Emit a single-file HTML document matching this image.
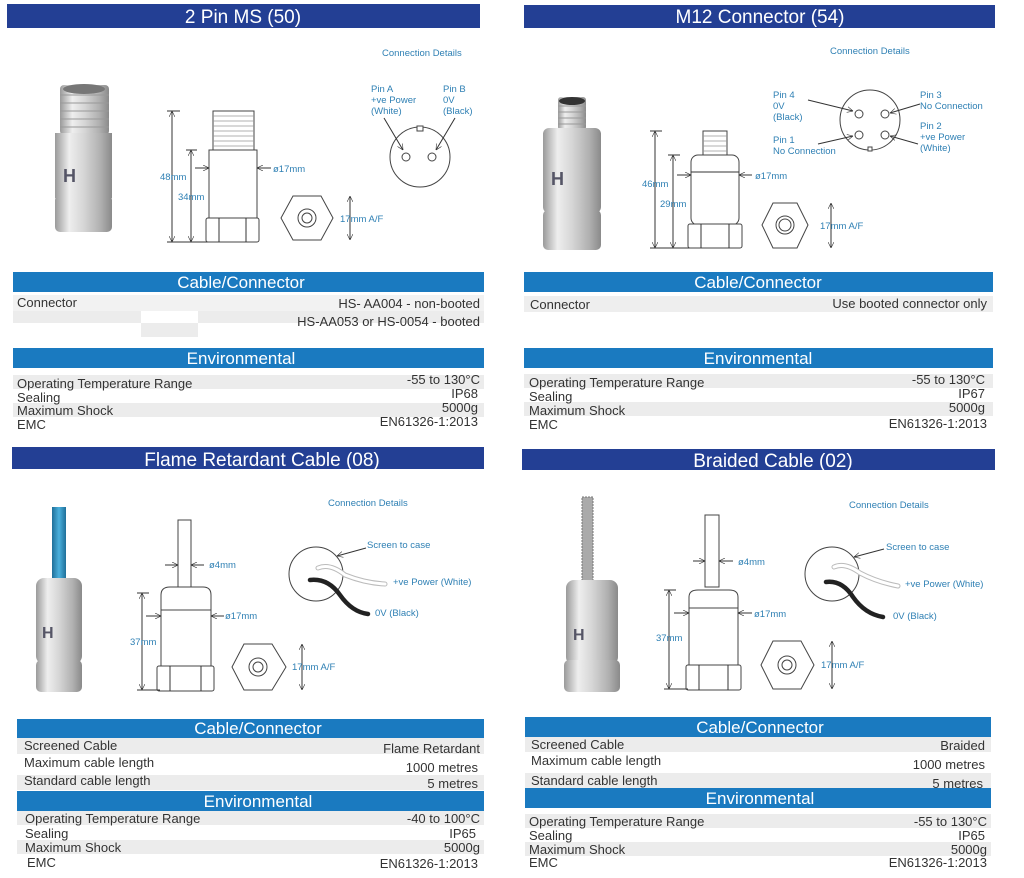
<!DOCTYPE html>
<html><head><meta charset="utf-8"><style>
html,body{margin:0;padding:0;background:#fff;}
svg{display:block;font-family:"Liberation Sans",Arial,sans-serif;}
.t{fill:#fff;font-size:19px;text-anchor:middle}
.s{fill:#fff;font-size:17px;text-anchor:middle}
.r{fill:#333;font-size:13px}
.rr{fill:#333;font-size:13px;text-anchor:end}
.b{fill:#2f80b4;font-size:9.5px}
.d{fill:#2f80b4;font-size:9.5px}
.l{stroke:#333;stroke-width:1;fill:none}
.w{stroke:#444;stroke-width:1;fill:#fff}
</style></head><body>
<svg width="1024" height="878" viewBox="0 0 1024 878" xmlns="http://www.w3.org/2000/svg">
<defs>
<linearGradient id="m" x1="0" x2="1" y1="0" y2="0">
<stop offset="0" stop-color="#9a9a9a"/><stop offset=".25" stop-color="#eeeeee"/><stop offset=".5" stop-color="#d6d6d6"/><stop offset=".8" stop-color="#b0b0b0"/><stop offset="1" stop-color="#8a8a8a"/></linearGradient>
<linearGradient id="c" x1="0" x2="1"><stop offset="0" stop-color="#1f6f99"/><stop offset=".5" stop-color="#4ab0dd"/><stop offset="1" stop-color="#1f6f99"/></linearGradient>
<marker id="a" viewBox="0 0 10 10" refX="10" refY="5" markerWidth="6" markerHeight="6" orient="auto-start-reverse"><path d="M0,0L10,5L0,10" fill="none" stroke="#333"/></marker>
</defs>

<!-- ===== TL ===== -->
<rect x="7" y="4" width="473" height="24" fill="#233f94"/>
<text class="t" x="243" y="23">2 Pin MS (50)</text>
<text class="b" x="382" y="56">Connection Details</text>
<rect x="60" y="85" width="49" height="50" rx="4" fill="url(#m)"/>
<path d="M60,95h49M60,103h49M60,111h49M60,119h49M60,127h49" stroke="#999" stroke-width="1"/>
<ellipse cx="84" cy="89" rx="21" ry="5" fill="#777"/>
<rect x="55" y="133" width="57" height="65" fill="url(#m)"/>
<rect x="55" y="195" width="57" height="37" rx="5" fill="url(#m)"/>
<text x="63" y="182" font-size="18" font-weight="bold" fill="#556">H</text>
<!-- drawing -->
<line class="l" x1="172" y1="111" x2="172" y2="242" marker-start="url(#a)" marker-end="url(#a)"/>
<line class="l" x1="167" y1="111" x2="180" y2="111"/><line class="l" x1="167" y1="242" x2="210" y2="242"/>
<line class="l" x1="191" y1="150" x2="191" y2="242" marker-start="url(#a)" marker-end="url(#a)"/>
<line class="l" x1="186" y1="150" x2="197" y2="150"/>
<rect class="w" x="213" y="111" width="41" height="39"/>
<path d="M213,116h41M213,121h41M213,126h41M213,131h41M213,136h41M213,141h41M213,146h41" stroke="#999" stroke-width=".8"/>
<rect class="w" x="209" y="150" width="48" height="68"/>
<rect class="w" x="206" y="218" width="53" height="24" rx="2"/>
<line class="l" x1="219" y1="218" x2="219" y2="242"/><line class="l" x1="246" y1="218" x2="246" y2="242"/>
<line class="l" x1="195" y1="168" x2="209" y2="168" marker-end="url(#a)"/>
<line class="l" x1="271" y1="168" x2="257" y2="168" marker-end="url(#a)"/>
<text class="d" x="273" y="172">ø17mm</text>
<text class="d" x="160" y="180">48mm</text>
<text class="d" x="178" y="200">34mm</text>
<polygon class="w" points="281,218 293,196 321,196 333,218 321,240 293,240"/>
<circle class="w" cx="307" cy="218" r="9"/><circle class="w" cx="307" cy="218" r="5"/>
<line class="l" x1="350" y1="196" x2="350" y2="240" marker-start="url(#a)" marker-end="url(#a)"/>
<text class="d" x="340" y="222">17mm A/F</text>
<circle class="w" cx="420" cy="157" r="30"/>
<rect class="w" x="417" y="126" width="6" height="5"/>
<circle class="w" cx="406" cy="157" r="4"/><circle class="w" cx="432" cy="157" r="4"/>
<line class="l" x1="384" y1="118" x2="403" y2="150" marker-end="url(#a)"/>
<line class="l" x1="455" y1="118" x2="436" y2="150" marker-end="url(#a)"/>
<text class="b" x="371" y="92">Pin A</text><text class="b" x="371" y="103">+ve Power</text><text class="b" x="371" y="114">(White)</text>
<text class="b" x="443" y="92">Pin B</text><text class="b" x="443" y="103">0V</text><text class="b" x="443" y="114">(Black)</text>
<rect x="13" y="272" width="471" height="20" fill="#1a7ac0"/>
<text class="s" x="241" y="288">Cable/Connector</text>
<rect x="13" y="295" width="471" height="16" fill="#f2f2f2"/>
<rect x="13" y="311" width="128" height="12" fill="#ececec"/><rect x="198" y="311" width="286" height="12" fill="#ececec"/>
<rect x="141" y="323" width="57" height="14" fill="#ececec"/>
<text class="r" x="17" y="307">Connector</text>
<text class="rr" x="480" y="308">HS- AA004 - non-booted</text>
<text class="rr" x="480" y="326">HS-AA053 or HS-0054 - booted</text>
<rect x="13" y="348" width="471" height="20" fill="#1a7ac0"/>
<text class="s" x="241" y="364">Environmental</text>
<rect x="13" y="375" width="471" height="14" fill="#ececec"/><rect x="13" y="403" width="471" height="14" fill="#ececec"/>
<text class="r" x="17" y="388">Operating Temperature Range</text><text class="rr" x="480" y="384">-55 to 130°C</text>
<text class="r" x="17" y="402">Sealing</text><text class="rr" x="478" y="398">IP68</text>
<text class="r" x="17" y="415">Maximum Shock</text><text class="rr" x="478" y="412">5000g</text>
<text class="r" x="17" y="429">EMC</text><text class="rr" x="478" y="426">EN61326-1:2013</text>

<!-- ===== TR ===== -->
<rect x="524" y="5" width="471" height="23" fill="#233f94"/>
<text class="t" x="760" y="23">M12 Connector (54)</text>
<text class="b" x="830" y="54">Connection Details</text>
<rect x="558" y="97" width="28" height="33" rx="3" fill="url(#m)"/>
<path d="M558,106h28M558,112h28M558,118h28M558,124h28" stroke="#999" stroke-width="1"/>
<ellipse cx="572" cy="101" rx="13" ry="4" fill="#333"/>
<rect x="543" y="128" width="58" height="85" rx="6" fill="url(#m)"/>
<rect x="543" y="210" width="58" height="40" rx="5" fill="url(#m)"/>
<text x="551" y="185" font-size="18" font-weight="bold" fill="#556">H</text>
<line class="l" x1="655" y1="131" x2="655" y2="248" marker-start="url(#a)" marker-end="url(#a)"/>
<line class="l" x1="650" y1="131" x2="662" y2="131"/><line class="l" x1="650" y1="248" x2="690" y2="248"/>
<line class="l" x1="673" y1="155" x2="673" y2="248" marker-start="url(#a)" marker-end="url(#a)"/>
<line class="l" x1="668" y1="155" x2="680" y2="155"/>
<rect class="w" x="703" y="131" width="24" height="25"/>
<path d="M703,136h24M703,141h24M703,146h24M703,151h24" stroke="#999" stroke-width=".8"/>
<rect class="w" x="691" y="155" width="48" height="70" rx="7"/>
<line class="l" x1="691" y1="172" x2="739" y2="172"/>
<rect class="w" x="688" y="224" width="54" height="24" rx="2"/>
<line class="l" x1="701" y1="224" x2="701" y2="248"/><line class="l" x1="729" y1="224" x2="729" y2="248"/>
<line class="l" x1="677" y1="175" x2="691" y2="175" marker-end="url(#a)"/>
<line class="l" x1="752" y1="175" x2="739" y2="175" marker-end="url(#a)"/>
<text class="d" x="755" y="179">ø17mm</text>
<text class="d" x="642" y="187">46mm</text>
<text class="d" x="660" y="207">29mm</text>
<polygon class="w" points="762,225 773,203 797,203 808,225 797,248 773,248"/>
<circle class="w" cx="785" cy="225" r="9"/><circle class="w" cx="785" cy="225" r="6"/>
<line class="l" x1="831" y1="203" x2="831" y2="248" marker-start="url(#a)" marker-end="url(#a)"/>
<text class="d" x="820" y="229">17mm A/F</text>
<circle class="w" cx="870" cy="120" r="30"/>
<rect class="w" x="868" y="147" width="4" height="4"/>
<circle class="w" cx="859" cy="114" r="4"/><circle class="w" cx="885" cy="114" r="4"/>
<circle class="w" cx="859" cy="135" r="4"/><circle class="w" cx="885" cy="135" r="4"/>
<line class="l" x1="808" y1="100" x2="853" y2="111" marker-end="url(#a)"/>
<line class="l" x1="920" y1="104" x2="890" y2="113" marker-end="url(#a)"/>
<line class="l" x1="818" y1="144" x2="853" y2="136" marker-end="url(#a)"/>
<line class="l" x1="918" y1="144" x2="890" y2="136" marker-end="url(#a)"/>
<text class="b" x="773" y="98">Pin 4</text><text class="b" x="773" y="109">0V</text><text class="b" x="773" y="120">(Black)</text>
<text class="b" x="773" y="143">Pin 1</text><text class="b" x="773" y="154">No Connection</text>
<text class="b" x="920" y="98">Pin 3</text><text class="b" x="920" y="109">No Connection</text>
<text class="b" x="920" y="129">Pin 2</text><text class="b" x="920" y="140">+ve Power</text><text class="b" x="920" y="151">(White)</text>
<rect x="524" y="272" width="469" height="20" fill="#1a7ac0"/>
<text class="s" x="758" y="288">Cable/Connector</text>
<rect x="524" y="296" width="469" height="16" fill="#eeeeee"/>
<text class="r" x="530" y="309">Connector</text>
<text class="rr" x="987" y="308">Use booted connector only</text>
<rect x="524" y="348" width="469" height="20" fill="#1a7ac0"/>
<text class="s" x="758" y="364">Environmental</text>
<rect x="524" y="374" width="469" height="14" fill="#ececec"/><rect x="524" y="402" width="469" height="14" fill="#ececec"/>
<text class="r" x="529" y="387">Operating Temperature Range</text><text class="rr" x="985" y="384">-55 to 130°C</text>
<text class="r" x="529" y="401">Sealing</text><text class="rr" x="985" y="398">IP67</text>
<text class="r" x="529" y="415">Maximum Shock</text><text class="rr" x="985" y="412">5000g</text>
<text class="r" x="529" y="429">EMC</text><text class="rr" x="987" y="428">EN61326-1:2013</text>

<!-- ===== BL ===== -->
<rect x="12" y="447" width="472" height="22" fill="#233f94"/>
<text class="t" x="262" y="466">Flame Retardant Cable (08)</text>
<text class="b" x="328" y="506">Connection Details</text>
<rect x="52" y="507" width="14" height="75" fill="url(#c)"/>
<rect x="36" y="578" width="46" height="86" rx="8" fill="url(#m)"/>
<rect x="36" y="660" width="46" height="32" rx="5" fill="url(#m)"/>
<text x="42" y="638" font-size="16" font-weight="bold" fill="#556">H</text>
<rect class="w" x="178" y="520" width="13" height="67"/>
<path class="w" d="M161,610 V595 Q161,587 170,587 H203 Q211,587 211,595 V610 Z"/>
<rect class="w" x="161" y="610" width="50" height="56"/>
<rect class="w" x="157" y="666" width="57" height="25" rx="2"/>
<line class="l" x1="170" y1="666" x2="170" y2="691"/><line class="l" x1="201" y1="666" x2="201" y2="691"/>
<line class="l" x1="142" y1="593" x2="142" y2="690" marker-start="url(#a)" marker-end="url(#a)"/>
<line class="l" x1="137" y1="593" x2="149" y2="593"/><line class="l" x1="137" y1="690" x2="160" y2="690"/>
<text class="d" x="130" y="645">37mm</text>
<line class="l" x1="165" y1="565" x2="178" y2="565" marker-end="url(#a)"/>
<line class="l" x1="204" y1="565" x2="191" y2="565" marker-end="url(#a)"/>
<text class="d" x="209" y="568">ø4mm</text>
<line class="l" x1="146" y1="616" x2="161" y2="616" marker-end="url(#a)"/>
<line class="l" x1="224" y1="616" x2="211" y2="616" marker-end="url(#a)"/>
<text class="d" x="225" y="619">ø17mm</text>
<polygon class="w" points="232,667 244,644 272,644 286,667 272,690 244,690"/>
<circle class="w" cx="258" cy="667" r="9"/><circle class="w" cx="258" cy="667" r="5"/>
<line class="l" x1="302" y1="644" x2="302" y2="690" marker-start="url(#a)" marker-end="url(#a)"/>
<text class="d" x="292" y="670">17mm A/F</text>
<circle class="w" cx="316" cy="574" r="27"/>
<path d="M318,568 Q330,563 345,575 Q365,583 385,584" stroke="#bbb" stroke-width="5" fill="none" stroke-linecap="round"/>
<path d="M318,568 Q330,563 345,575 Q365,583 385,584" stroke="#fff" stroke-width="3" fill="none" stroke-linecap="round"/>
<path d="M310,580 Q328,578 340,595 Q352,612 368,614" stroke="#222" stroke-width="4.5" fill="none" stroke-linecap="round"/>
<line class="l" x1="366" y1="548" x2="337" y2="556" marker-end="url(#a)"/>
<text class="b" x="367" y="548">Screen to case</text>
<text class="b" x="393" y="585">+ve Power (White)</text>
<text class="b" x="375" y="616">0V (Black)</text>
<rect x="17" y="719" width="467" height="19" fill="#1a7ac0"/>
<text class="s" x="258" y="734">Cable/Connector</text>
<rect x="17" y="738" width="467" height="16" fill="#ececec"/><rect x="17" y="775" width="467" height="15" fill="#ececec"/>
<text class="r" x="24" y="750">Screened Cable</text><text class="rr" x="480" y="753">Flame Retardant</text>
<text class="r" x="24" y="767">Maximum cable length</text><text class="rr" x="478" y="772">1000 metres</text>
<text class="r" x="24" y="785">Standard cable length</text><text class="rr" x="478" y="788">5 metres</text>
<rect x="17" y="791" width="467" height="20" fill="#1a7ac0"/>
<text class="s" x="258" y="807">Environmental</text>
<rect x="17" y="811" width="467" height="14" fill="#ececec"/><rect x="17" y="840" width="467" height="14" fill="#ececec"/>
<text class="r" x="25" y="823">Operating Temperature Range</text><text class="rr" x="480" y="823">-40 to 100°C</text>
<text class="r" x="25" y="838">Sealing</text><text class="rr" x="476" y="838">IP65</text>
<text class="r" x="25" y="852">Maximum Shock</text><text class="rr" x="480" y="852">5000g</text>
<text class="r" x="27" y="867">EMC</text><text class="rr" x="478" y="868">EN61326-1:2013</text>

<!-- ===== BR ===== -->
<rect x="522" y="449" width="473" height="21" fill="#233f94"/>
<text class="t" x="773" y="467">Braided Cable (02)</text>
<text class="b" x="849" y="508">Connection Details</text>
<rect x="582" y="497" width="11" height="85" fill="#aaa" stroke="#777" stroke-width="1" stroke-dasharray="2,1"/>
<rect x="566" y="580" width="52" height="85" rx="8" fill="url(#m)"/>
<rect x="564" y="660" width="56" height="32" rx="5" fill="url(#m)"/>
<text x="573" y="640" font-size="16" font-weight="bold" fill="#556">H</text>
<rect class="w" x="705" y="515" width="14" height="72"/>
<path class="w" d="M689,608 V597 Q689,590 698,590 H729 Q738,590 738,597 V608 Z"/>
<rect class="w" x="689" y="608" width="49" height="57"/>
<rect class="w" x="686" y="665" width="55" height="25" rx="2"/>
<line class="l" x1="699" y1="665" x2="699" y2="690"/><line class="l" x1="728" y1="665" x2="728" y2="690"/>
<line class="l" x1="669" y1="590" x2="669" y2="689" marker-start="url(#a)" marker-end="url(#a)"/>
<line class="l" x1="664" y1="590" x2="676" y2="590"/><line class="l" x1="664" y1="689" x2="688" y2="689"/>
<text class="d" x="656" y="641">37mm</text>
<line class="l" x1="693" y1="561" x2="705" y2="561" marker-end="url(#a)"/>
<line class="l" x1="733" y1="561" x2="719" y2="561" marker-end="url(#a)"/>
<text class="d" x="738" y="565">ø4mm</text>
<line class="l" x1="674" y1="613" x2="689" y2="613" marker-end="url(#a)"/>
<line class="l" x1="752" y1="613" x2="738" y2="613" marker-end="url(#a)"/>
<text class="d" x="754" y="617">ø17mm</text>
<polygon class="w" points="761,665 773,641 801,641 814,665 801,689 773,689"/>
<circle class="w" cx="787" cy="665" r="9"/><circle class="w" cx="787" cy="665" r="5"/>
<line class="l" x1="832" y1="641" x2="832" y2="689" marker-start="url(#a)" marker-end="url(#a)"/>
<text class="d" x="821" y="668">17mm A/F</text>
<circle class="w" cx="832" cy="574" r="27"/>
<path d="M834,567 Q845,562 860,573 Q877,582 898,586" stroke="#bbb" stroke-width="5" fill="none" stroke-linecap="round"/>
<path d="M834,567 Q845,562 860,573 Q877,582 898,586" stroke="#fff" stroke-width="3" fill="none" stroke-linecap="round"/>
<path d="M826,582 Q842,580 853,597 Q865,614 883,617" stroke="#222" stroke-width="4.5" fill="none" stroke-linecap="round"/>
<line class="l" x1="884" y1="549" x2="854" y2="557" marker-end="url(#a)"/>
<text class="b" x="886" y="550">Screen to case</text>
<text class="b" x="905" y="587">+ve Power (White)</text>
<text class="b" x="893" y="619">0V (Black)</text>
<rect x="525" y="717" width="466" height="20" fill="#1a7ac0"/>
<text class="s" x="760" y="733">Cable/Connector</text>
<rect x="525" y="737" width="466" height="15" fill="#ececec"/><rect x="525" y="773" width="466" height="15" fill="#ececec"/>
<text class="r" x="531" y="749">Screened Cable</text><text class="rr" x="985" y="750">Braided</text>
<text class="r" x="531" y="765">Maximum cable length</text><text class="rr" x="985" y="769">1000 metres</text>
<text class="r" x="531" y="785">Standard cable length</text><text class="rr" x="983" y="788">5 metres</text>
<rect x="525" y="788" width="466" height="20" fill="#1a7ac0"/>
<text class="s" x="760" y="804">Environmental</text>
<rect x="525" y="814" width="466" height="14" fill="#ececec"/><rect x="525" y="842" width="466" height="14" fill="#ececec"/>
<text class="r" x="529" y="826">Operating Temperature Range</text><text class="rr" x="987" y="826">-55 to 130°C</text>
<text class="r" x="529" y="840">Sealing</text><text class="rr" x="985" y="840">IP65</text>
<text class="r" x="529" y="854">Maximum Shock</text><text class="rr" x="987" y="854">5000g</text>
<text class="r" x="529" y="867">EMC</text><text class="rr" x="987" y="867">EN61326-1:2013</text>
</svg>
</body></html>
